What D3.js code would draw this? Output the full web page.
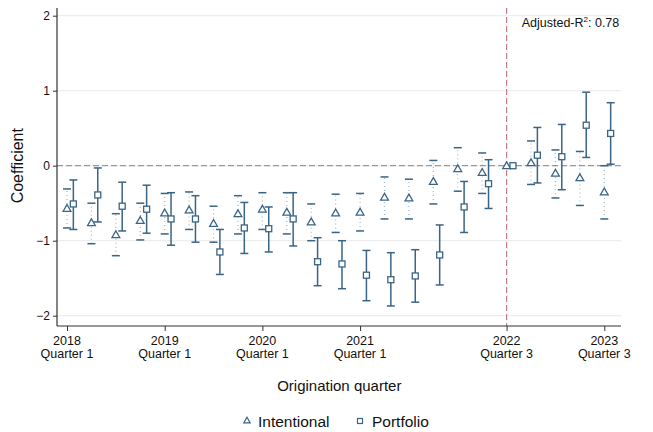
<!DOCTYPE html>
<html><head><meta charset="utf-8">
<script src="https://cdn.jsdelivr.net/npm/d3@7"></script>
<style>body{margin:0;background:#fff;} text{font-family:Arial,"Liberation Sans",sans-serif;fill:#111;}</style>
</head><body><svg id="c" width="653" height="432"></svg>
<script>
const quarters = d3.range(0, 23); // 2018Q1 .. 2023Q3
const intentionalCoef = [-0.57,-0.76,-0.92,-0.73,-0.63,-0.59,-0.77,-0.64,-0.58,-0.62,-0.75,-0.63,-0.62,-0.42,-0.43,-0.21,-0.04,-0.09,0,0.04,-0.10,-0.16,-0.35];
const intentionalLo   = [-0.83,-1.04,-1.20,-0.99,-0.91,-0.85,-1.02,-0.91,-0.85,-0.91,-1.00,-0.89,-0.87,-0.71,-0.71,-0.51,-0.34,-0.37,0,-0.25,-0.43,-0.53,-0.71];
const intentionalHi   = [-0.31,-0.50,-0.64,-0.50,-0.37,-0.35,-0.54,-0.40,-0.36,-0.36,-0.51,-0.38,-0.37,-0.15,-0.18,0.07,0.24,0.17,0,0.33,0.21,0.19,0.00];
const portfolioCoef = [-0.51,-0.39,-0.54,-0.58,-0.71,-0.71,-1.15,-0.83,-0.84,-0.71,-1.28,-1.31,-1.46,-1.52,-1.47,-1.19,-0.55,-0.24,0,0.14,0.12,0.54,0.43];
const portfolioLo   = [-0.85,-0.75,-0.87,-0.90,-1.06,-1.02,-1.45,-1.17,-1.15,-1.07,-1.60,-1.64,-1.80,-1.87,-1.82,-1.59,-0.89,-0.57,0,-0.23,-0.32,0.11,0.02];
const portfolioHi   = [-0.19,-0.03,-0.22,-0.26,-0.36,-0.40,-0.85,-0.49,-0.55,-0.36,-0.96,-1.00,-1.13,-1.16,-1.12,-0.79,-0.21,0.08,0,0.51,0.55,0.98,0.84];
const xTickQuarters = [0,4,8,12,18,22];
const xTickYears = ["2018","2019","2020","2021","2022","2023"];
const xTickQ = ["Quarter 1","Quarter 1","Quarter 1","Quarter 1","Quarter 3","Quarter 3"];
const yTicks = [-2,-1,0,1,2];
const refQuarter = 18;
const r2Text = "0.78";

const svg = d3.select("#c");
const col = "#3a6485";
const x = d3.scaleLinear().domain([0,22]).range([67,604.3]);
const y = d3.scaleLinear().domain([-2,2]).range([315.7,15.7]);
const pL=57, pR=621, pT=8, pB=326;
const off = 0.26;

// gridlines
svg.append("g").selectAll("line").data(yTicks).join("line")
  .attr("x1",pL).attr("x2",pR).attr("y1",d=>y(d)).attr("y2",d=>y(d))
  .attr("stroke","#eeeeee").attr("stroke-width",1.2);
// zero line
svg.append("line").attr("x1",pL).attr("x2",pR).attr("y1",y(0)).attr("y2",y(0))
  .attr("stroke","#9a9a9a").attr("stroke-width",1.2).attr("stroke-dasharray","6,3");
// reference line
svg.append("line").attr("x1",x(refQuarter)).attr("x2",x(refQuarter)).attr("y1",pT).attr("y2",pB)
  .attr("stroke","#c87c84").attr("stroke-width",1.2).attr("stroke-dasharray","6,3");

// axes
const yAxis = d3.axisLeft(y).tickValues(yTicks).tickSize(4).tickPadding(3).tickFormat(d3.format("d"));
const gy = svg.append("g").attr("transform",`translate(${pL},0)`).call(yAxis);
gy.select(".domain").remove();
gy.selectAll("line").attr("stroke","#333");
gy.selectAll("text").attr("font-size",12).style("font-family","Arial,'Liberation Sans',sans-serif").attr("fill","#111");
svg.append("line").attr("x1",pL).attr("x2",pL).attr("y1",pT).attr("y2",pB).attr("stroke","#333").attr("stroke-width",1.2);

const xAxis = d3.axisBottom(x).tickValues(xTickQuarters).tickSize(5).tickFormat("");
const gx = svg.append("g").attr("transform",`translate(0,${pB})`).call(xAxis);
gx.select(".domain").remove();
gx.selectAll("line").attr("stroke","#333");
svg.append("line").attr("x1",pL).attr("x2",pR).attr("y1",pB).attr("y2",pB).attr("stroke","#333").attr("stroke-width",1.2);
const xl = svg.append("g").selectAll("text").data(xTickQuarters).join("text")
  .attr("x",d=>x(d)).attr("y",345.3).attr("text-anchor","middle").attr("font-size",12.5);
xl.append("tspan").attr("x",d=>x(d)).text((d,i)=>xTickYears[i]);
xl.append("tspan").attr("x",d=>x(d)).attr("dy",13).text((d,i)=>xTickQ[i]);

svg.append("text").attr("x",19).attr("y",y(0)).attr("transform",`rotate(-90,19,${y(0)})`)
  .attr("text-anchor","middle").attr("dominant-baseline","middle").attr("font-size",16).text("Coefficient");
svg.append("text").attr("x",339.3).attr("y",390.7).attr("text-anchor","middle").attr("font-size",15).text("Origination quarter");

// Intentional CIs (dotted whisker + solid caps)
const cap = 4;
const gi = svg.append("g");
quarters.forEach((q,i)=>{
  if (q===refQuarter) return;
  const xc = x(q);
  gi.append("line").attr("x1",xc).attr("x2",xc).attr("y1",y(intentionalLo[i])).attr("y2",y(intentionalHi[i]))
    .attr("stroke",col).attr("stroke-opacity",0.45).attr("stroke-width",1.2).attr("stroke-dasharray","1,3");
  [intentionalLo[i],intentionalHi[i]].forEach(v=>{
    gi.append("line").attr("x1",xc-cap).attr("x2",xc+cap).attr("y1",y(v)).attr("y2",y(v)).attr("stroke",col).attr("stroke-width",1.5);
  });
});
// Portfolio CIs solid
const gp = svg.append("g");
quarters.forEach((q,i)=>{
  if (q===refQuarter) return;
  const xc = x(q+off);
  gp.append("line").attr("x1",xc).attr("x2",xc).attr("y1",y(portfolioLo[i])).attr("y2",y(portfolioHi[i]))
    .attr("stroke",col).attr("stroke-width",1.5);
  [portfolioLo[i],portfolioHi[i]].forEach(v=>{
    gp.append("line").attr("x1",xc-cap).attr("x2",xc+cap).attr("y1",y(v)).attr("y2",y(v)).attr("stroke",col).attr("stroke-width",1.5);
  });
});
// markers
const tri = d3.symbol().type(d3.symbolTriangle).size(26);
svg.append("g").selectAll("path").data(quarters).join("path")
  .attr("d",tri).attr("transform",(d,i)=>`translate(${x(d)},${y(intentionalCoef[i])+0.6})`)
  .attr("fill","#fff").attr("stroke",col).attr("stroke-width",1.3);
svg.append("g").selectAll("rect").data(quarters).join("rect")
  .attr("x",(d)=>x(d+off)-3).attr("y",(d,i)=>y(portfolioCoef[i])-3).attr("width",6).attr("height",6)
  .attr("fill","#fff").attr("stroke",col).attr("stroke-width",1.3);

// R2 annotation
const r2 = svg.append("text").attr("x",521.7).attr("y",27.3).attr("font-size",12.5);
r2.append("tspan").text("Adjusted-R");
r2.append("tspan").attr("font-size",8).attr("dy",-5).text("2");
r2.append("tspan").attr("dy",5).text(": "+r2Text);

// legend
const lg = svg.append("g");
lg.append("path").attr("d",d3.symbol().type(d3.symbolTriangle).size(18)).attr("transform","translate(247,421)")
  .attr("fill","#fff").attr("stroke",col).attr("stroke-width",1.2);
lg.append("text").attr("x",258).attr("y",426.5).attr("font-size",15.5).text("Intentional");
lg.append("rect").attr("x",357.5).attr("y",418.5).attr("width",5).attr("height",5).attr("fill","#fff").attr("stroke",col).attr("stroke-width",1.2);
lg.append("text").attr("x",372).attr("y",426.5).attr("font-size",15.5).text("Portfolio");
</script></body></html>
